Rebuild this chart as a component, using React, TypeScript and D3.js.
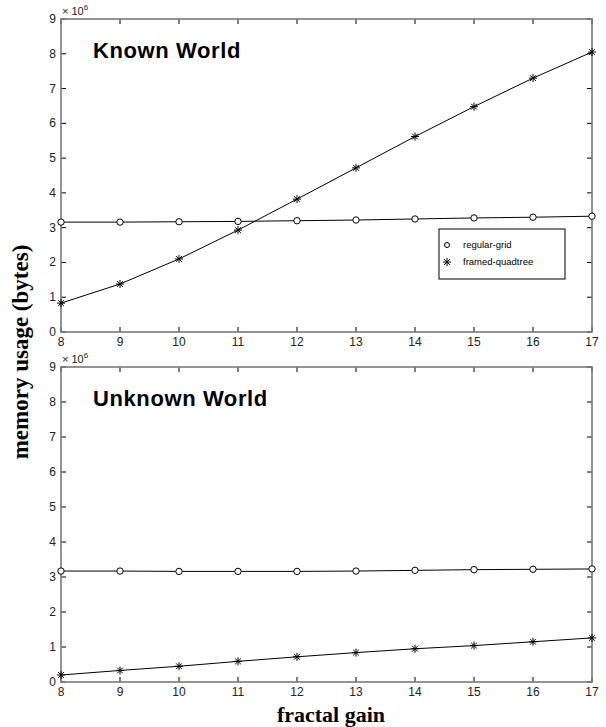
import React from "react";
import * as d3 from "d3";

const gains = [8, 9, 10, 11, 12, 13, 14, 15, 16, 17];
const knownGrid = [3.16, 3.16, 3.17, 3.18, 3.2, 3.22, 3.25, 3.28, 3.3, 3.33];
const knownQuad = [0.83, 1.38, 2.1, 2.93, 3.82, 4.72, 5.62, 6.48, 7.3, 8.05];
const unknownGrid = [3.17, 3.17, 3.16, 3.16, 3.16, 3.17, 3.19, 3.21, 3.22, 3.23];
const unknownQuad = [0.2, 0.33, 0.45, 0.59, 0.72, 0.84, 0.95, 1.04, 1.15, 1.26];
const yTicks = [0, 1, 2, 3, 4, 5, 6, 7, 8, 9];
const panelTitles = ["Known World", "Unknown World"];
const legendLabels = ["regular-grid", "framed-quadtree"];

const W = 606, H = 727;
const left = 61, right = 592;
const panels = [
  { top: 19, bottom: 332, grid: knownGrid, quad: knownQuad, title: panelTitles[0], legend: true },
  { top: 367, bottom: 682, grid: unknownGrid, quad: unknownQuad, title: panelTitles[1], legend: false },
];

const x = d3.scaleLinear().domain([8, 17]).range([left, right]);

function Star({ cx, cy }: { cx: number; cy: number }) {
  const r = 4;
  const d = r * 0.72;
  return (
    <g stroke="#000" strokeWidth={1}>
      <line x1={cx - r} y1={cy} x2={cx + r} y2={cy} />
      <line x1={cx} y1={cy - r} x2={cx} y2={cy + r} />
      <line x1={cx - d} y1={cy - d} x2={cx + d} y2={cy + d} />
      <line x1={cx - d} y1={cy + d} x2={cx + d} y2={cy - d} />
    </g>
  );
}

function Panel({ p }: { p: typeof panels[0] }) {
  const y = d3.scaleLinear().domain([0, 9]).range([p.bottom, p.top]);
  const line = d3.line<number>().x((_, i) => x(gains[i])).y((v) => y(v));
  const font = "'Liberation Sans', Arial, sans-serif";
  return (
    <g>
      {gains.map((g) => (
        <g key={"xt" + g}>
          <line x1={x(g)} x2={x(g)} y1={p.bottom} y2={p.bottom - 5} stroke="#000" />
          <line x1={x(g)} x2={x(g)} y1={p.top} y2={p.top + 5} stroke="#000" />
          <text x={x(g)} y={p.bottom + 14} textAnchor="middle" fontSize={12} fontFamily={font} fill="#222">{g}</text>
        </g>
      ))}
      {yTicks.map((t) => (
        <g key={"yt" + t}>
          <line x1={left} x2={left + 5} y1={y(t)} y2={y(t)} stroke="#000" />
          <line x1={right} x2={right - 5} y1={y(t)} y2={y(t)} stroke="#000" />
          <text x={left - 5} y={y(t) + 4} textAnchor="end" fontSize={12} fontFamily={font} fill="#222">{t}</text>
        </g>
      ))}
      <rect x={left} y={p.top} width={right - left} height={p.bottom - p.top} fill="none" stroke="#7a7a7a" strokeWidth={1.6} />
      <text x={left + 1} y={p.top - 4} fontSize={11} fontFamily={font} fill="#222">
        × 10<tspan dy={-5} fontSize={8}>6</tspan>
      </text>
      <text x={93} y={p.top + 39} fontSize={22} fontWeight="bold" letterSpacing={0.6} fontFamily={font} fill="#000">{p.title}</text>
      <path d={line(p.grid) || ""} fill="none" stroke="#000" strokeWidth={1} />
      <path d={line(p.quad) || ""} fill="none" stroke="#000" strokeWidth={1} />
      {p.grid.map((v, i) => (
        <circle key={"c" + i} cx={x(gains[i])} cy={y(v)} r={3.2} fill="#fff" stroke="#000" strokeWidth={1} />
      ))}
      {p.quad.map((v, i) => (
        <Star key={"s" + i} cx={x(gains[i])} cy={y(v)} />
      ))}
      {p.legend && (
        <g>
          <rect x={439} y={229} width={126} height={50} fill="#fff" stroke="#000" strokeWidth={1} />
          <circle cx={447} cy={245} r={2.5} fill="#fff" stroke="#000" />
          <text x={463} y={248} fontSize={9.5} fontFamily={font} fill="#000">{legendLabels[0]}</text>
          <Star cx={447} cy={262} />
          <text x={463} y={265} fontSize={9.5} fontFamily={font} fill="#000">{legendLabels[1]}</text>
        </g>
      )}
    </g>
  );
}

export default function App() {
  return (
    <svg width={W} height={H} style={{ position: "absolute", left: 0, top: 0, background: "#fff" }}>
      <rect width={W} height={H} fill="#fff" />
      {panels.map((p, i) => (
        <Panel key={i} p={p} />
      ))}
      <text
        transform="translate(28,352) rotate(-90)"
        textAnchor="middle"
        fontSize={23}
        fontWeight="bold"
        fontFamily="'Liberation Serif', 'Times New Roman', serif"
      >
        memory usage (bytes)
      </text>
      <text x={331} y={722} textAnchor="middle" fontSize={22} fontWeight="bold" fontFamily="'Liberation Serif', 'Times New Roman', serif">
        fractal gain
      </text>
    </svg>
  );
}
